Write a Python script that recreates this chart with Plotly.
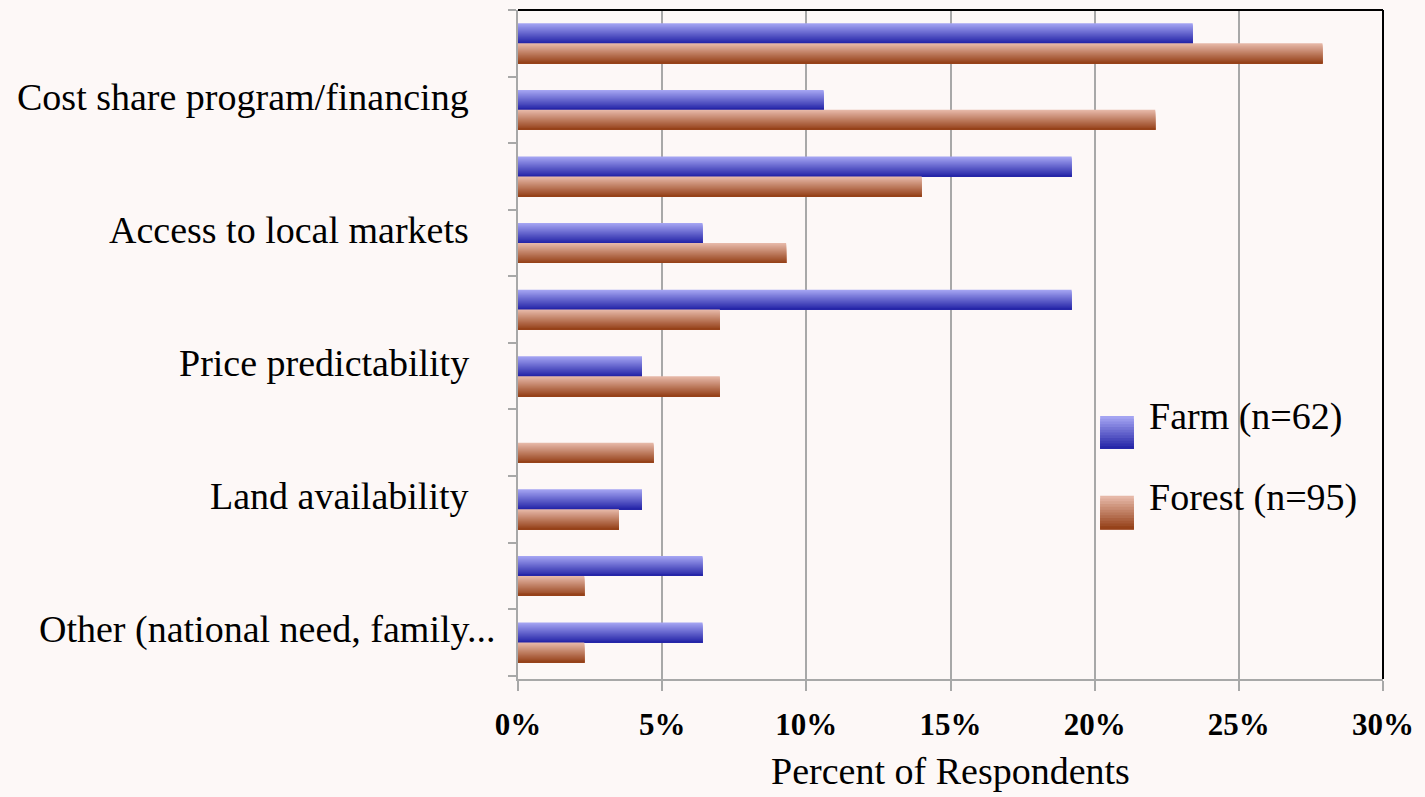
import plotly.graph_objects as go

# Categories top to bottom; only every other one carries a visible label in the source chart
categories = [
    "(unlabeled 1)",
    "Cost share program/financing",
    "(unlabeled 2)",
    "Access to local markets",
    "(unlabeled 3)",
    "Price predictability",
    "(unlabeled 4)",
    "Land availability",
    "(unlabeled 5)",
    "Other (national need, family...",
]
shown_labels = [
    "Cost share program/financing",
    "Access to local markets",
    "Price predictability",
    "Land availability",
    "Other (national need, family...",
]

# percent of respondents
farm_pct = [23.4, 10.6, 19.2, 6.4, 19.2, 4.3, 0.0, 4.3, 6.4, 6.4]
forest_pct = [27.9, 22.1, 14.0, 9.3, 7.0, 7.0, 4.7, 3.5, 2.3, 2.3]

x_ticks = [0, 5, 10, 15, 20, 25, 30]
x_tick_labels = ["0%", "5%", "10%", "15%", "20%", "25%", "30%"]
series_names = ["Farm (n=62)", "Forest (n=95)"]

BG = "#FDF8F7"
GRID = "#A8A8A8"
FONT = "Liberation Serif"

# gradient ends (top, bottom) for each series
FARM_COLORS = ((164, 164, 242), (38, 38, 168))
FOREST_COLORS = ((230, 184, 168), (150, 66, 26))

N_STRIPS = 20
BAR_W = 0.3


def blend(c1, c2, t):
    r, g, b = (round(a + (b_ - a) * t) for a, b_ in zip(c1, c2))
    return f"rgb({r},{g},{b})"


fig = go.Figure()

# each bar is a stack of overlapping strips (each running to the bar's bottom edge)
# drawn light to dark, which gives the vertical gradient without seams
for values, cols, start, name in [
    (farm_pct, FARM_COLORS, -BAR_W, series_names[0]),
    (forest_pct, FOREST_COLORS, 0.0, series_names[1]),
]:
    step = BAR_W / N_STRIPS
    for i in range(N_STRIPS):
        fig.add_trace(
            go.Bar(
                y=categories,
                x=values,
                orientation="h",
                width=BAR_W - i * step,
                offset=start + i * step,
                marker=dict(color=blend(cols[0], cols[1], i / (N_STRIPS - 1)), line=dict(width=0)),
                name=name,
                showlegend=False,
                hovertemplate="%{y}: %{x:.1f}%<extra>" + name + "</extra>",
            )
        )

shapes = []
annotations = []

# category labels, sitting a little above the category centre as in the source;
# the truncated last label runs a bit closer to the axis
for c in shown_labels:
    annotations.append(dict(
        xref="paper", yref="y", x=0, y=c, text=c, showarrow=False,
        xanchor="right", yanchor="middle",
        xshift=-20 if c.endswith("...") else -47, yshift=13,
        font=dict(family=FONT, size=38, color="black"),
    ))

# custom legend with large gradient swatches
for (cols, y0, y1, ty, label) in [
    (FARM_COLORS, 0.344, 0.393, 0.392, series_names[0]),
    (FOREST_COLORS, 0.224, 0.274, 0.272, series_names[1]),
]:
    n = 12
    h = (y1 - y0) / n
    for i in range(n):
        shapes.append(dict(
            type="rect", xref="paper", yref="paper",
            x0=0.673, x1=0.712, y0=y0, y1=y1 - i * h,
            fillcolor=blend(cols[0], cols[1], i / (n - 1)), line=dict(width=0),
        ))
    annotations.append(dict(
        xref="paper", yref="paper", x=0.727, y=ty, text=label, showarrow=False,
        xanchor="left", yanchor="middle", font=dict(family=FONT, size=38, color="black"),
    ))

# black top and right border of the plot frame
shapes.append(dict(type="line", xref="paper", yref="paper", x0=0, x1=1, y0=1, y1=1,
                   line=dict(color="black", width=2)))
shapes.append(dict(type="line", xref="paper", yref="paper", x0=1, x1=1, y0=0, y1=1,
                   line=dict(color="black", width=2)))

fig.update_layout(
    width=1425,
    height=797,
    barmode="overlay",
    paper_bgcolor=BG,
    plot_bgcolor=BG,
    margin=dict(l=518, r=42, t=10, b=118),
    font=dict(family=FONT, color="black"),
    shapes=shapes,
    annotations=annotations,
    showlegend=False,
)

fig.update_xaxes(
    range=[0, 30],
    tickmode="array",
    tickvals=x_ticks,
    ticktext=x_tick_labels,
    tickfont=dict(family=FONT, size=31, weight="bold"),
    ticklabelstandoff=7,
    showgrid=True,
    gridcolor=GRID,
    gridwidth=1.5,
    zeroline=False,
    showline=True,
    linecolor=GRID,
    linewidth=2,
    ticks="outside",
    ticklen=10,
    tickwidth=1.5,
    tickcolor=GRID,
    title=dict(text="Percent of Respondents", font=dict(family=FONT, size=38), standoff=16),
)

fig.update_yaxes(
    type="category",
    categoryorder="array",
    categoryarray=categories,
    autorange="reversed",
    tickmode="array",
    tickvals=categories,
    ticktext=["" for c in categories],
    tickson="boundaries",
    ticks="outside",
    ticklen=8,
    tickwidth=1.5,
    tickcolor=GRID,
    showgrid=False,
    showline=True,
    linecolor=GRID,
    linewidth=2,
)

# drop the default page margin so the figure sits at the window's top-left corner
fig.write_html(
    "out.html",
    config={"displayModeBar": False},
    post_script="document.body.style.margin='0';",
)
